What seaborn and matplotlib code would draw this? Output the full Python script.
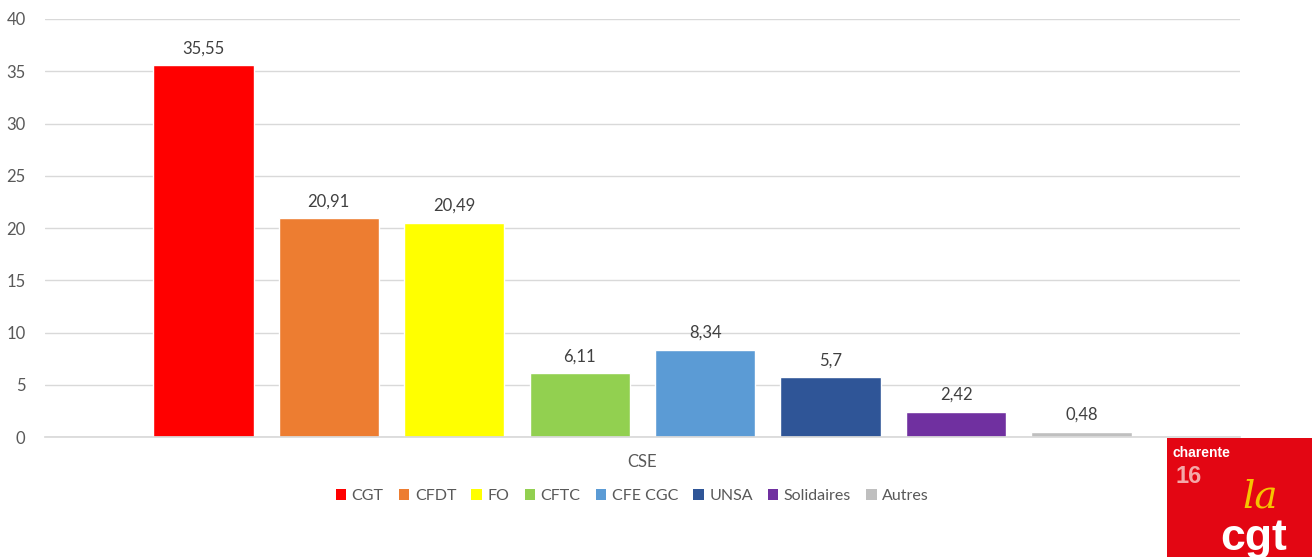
import matplotlib
matplotlib.use("Agg")
import matplotlib.pyplot as plt
import seaborn as sns
import pandas as pd

categories = ["CSE"]
unions = ["CGT", "CFDT", "FO", "CFTC", "CFE CGC", "UNSA", "Solidaires", "Autres"]
values = [35.55, 20.91, 20.49, 6.11, 8.34, 5.7, 2.42, 0.48]
colors = ["#FF0000", "#ED7D31", "#FFFF00", "#92D050", "#5B9BD5", "#2F5597", "#7030A0", "#BFBFBF"]
yticks = [0, 5, 10, 15, 20, 25, 30, 35, 40]

df = pd.DataFrame({"cat": categories * len(unions), "union": unions, "value": values})

sns.set_theme(style="white")
plt.rcParams["font.family"] = ["Lato", "DejaVu Sans"]

fig = plt.figure(figsize=(13.12, 5.57), dpi=100)
ax = fig.add_axes([0.0343, 0.2154, 0.9107, 0.7505])

sns.barplot(data=df, x="cat", y="value", hue="union", hue_order=unions,
            palette=colors, width=0.84, gap=0.2, ax=ax, legend=False,
            saturation=1, errorbar=None)

for cont, v in zip(ax.containers, values):
    lab = (f"{v:g}").replace(".", ",")
    ax.bar_label(cont, labels=[lab], padding=6.5, fontsize=12, color="#404040")

ax.set_ylim(0, 40)
ax.set_xlim(-0.5, 0.5)
ax.set_yticks(yticks)
ax.set_yticklabels([str(t) for t in yticks])
ax.yaxis.grid(True, color="#D9D9D9", linewidth=1)
ax.set_axisbelow(True)
for s in ["top", "right", "left"]:
    ax.spines[s].set_visible(False)
ax.spines["bottom"].set_color("#D9D9D9")
ax.tick_params(axis="both", length=0, labelsize=12, colors="#595959", pad=12)
ax.tick_params(axis="y", pad=14)
ax.set_xlabel("")
ax.set_ylabel("")

from matplotlib.patches import Patch
handles = [Patch(facecolor=c, edgecolor="none") for c in colors]
fig.legend(handles, unions, loc="center", bbox_to_anchor=(0.482, 0.109), ncol=8,
           frameon=False, fontsize=11.5, handlelength=0.65, handleheight=0.65,
           handletextpad=0.35, columnspacing=0.95, labelcolor="#595959")

# logo
lax = fig.add_axes([1167/1312, 0, 145/1312, 119/557])
lax.set_xlim(0, 1); lax.set_ylim(0, 1)
lax.set_facecolor("#E30613")
for s in lax.spines.values():
    s.set_visible(False)
lax.set_xticks([]); lax.set_yticks([])
lax.text(0.06, 0.62, "16", color="#F4A8A8", fontsize=17, fontweight="bold", family="Liberation Sans")
lax.text(0.04, 0.84, "charente", color="white", fontsize=10, fontweight="bold", family="Liberation Sans")
lax.text(0.52, 0.42, "la", color="#F5C400", fontsize=28, style="italic", family="DejaVu Serif")
lax.text(0.37, 0.06, "cgt", color="white", fontsize=32, fontweight="bold", family="Liberation Sans")

fig.savefig("out.png", dpi=100)
